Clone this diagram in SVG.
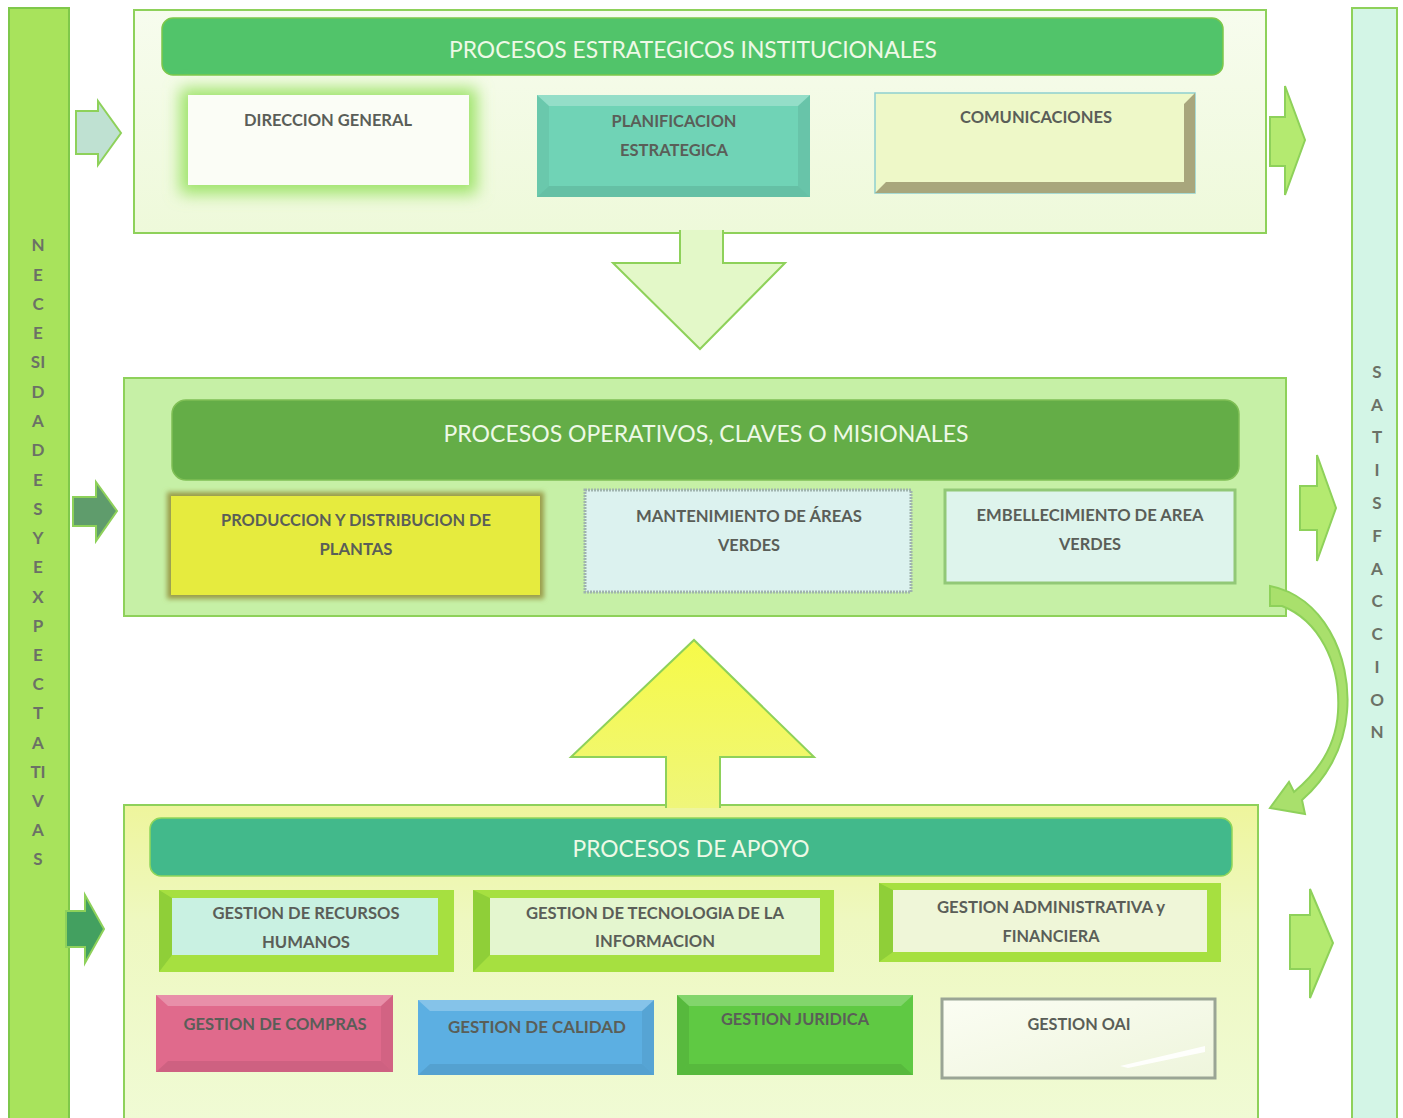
<svg xmlns="http://www.w3.org/2000/svg" width="1403" height="1118" viewBox="0 0 1403 1118">
<defs>
  <style>
    .lbl{font-family:"Lato","Open Sans","Liberation Sans",sans-serif;font-weight:700;font-size:17px;fill:#5a5e58;text-anchor:middle}
    .hdr{font-family:"Lato","Open Sans","Liberation Sans",sans-serif;font-weight:400;font-size:23px;fill:#eef9e6;text-anchor:middle}
    .vl{font-family:"Lato","Open Sans","Liberation Sans",sans-serif;font-weight:700;font-size:17px;fill:#6b7166;text-anchor:middle}
    .cont{stroke:#8ed15a;stroke-width:2}
    .arr{stroke:#8ed15a;stroke-width:2;stroke-linejoin:miter}
  </style>
  <linearGradient id="gTop" x1="0" y1="0" x2="0" y2="1">
    <stop offset="0" stop-color="#f7fcee"/>
    <stop offset="1" stop-color="#eef9da"/>
  </linearGradient>
  <linearGradient id="gBot" x1="0" y1="0" x2="0" y2="1">
    <stop offset="0" stop-color="#eef59c"/>
    <stop offset="0.35" stop-color="#eef8c0"/>
    <stop offset="1" stop-color="#f0fbd6"/>
  </linearGradient>
  <linearGradient id="gUp" x1="0" y1="0" x2="0" y2="1">
    <stop offset="0" stop-color="#f6fa48"/>
    <stop offset="1" stop-color="#eff67a"/>
  </linearGradient>
  <linearGradient id="gOai" x1="0" y1="0" x2="1" y2="1">
    <stop offset="0" stop-color="#fbfdf3"/>
    <stop offset="1" stop-color="#eef5dc"/>
  </linearGradient>
  <filter id="glow" x="-20%" y="-40%" width="140%" height="180%">
    <feGaussianBlur stdDeviation="8"/>
  </filter>
  <filter id="soft" x="-10%" y="-20%" width="120%" height="140%">
    <feGaussianBlur stdDeviation="2.5"/>
  </filter>
</defs>

<!-- side bars -->
<g id="bar-necesidades">
  <rect x="9" y="8" width="60" height="1120" fill="#a8e35c" stroke="#7fc84a" stroke-width="2"/>
  <text class="vl" x="38" y="251">N</text>
  <text class="vl" x="38" y="281">E</text>
  <text class="vl" x="38" y="310">C</text>
  <text class="vl" x="38" y="339">E</text>
  <text class="vl" x="38" y="368">SI</text>
  <text class="vl" x="38" y="398">D</text>
  <text class="vl" x="38" y="427">A</text>
  <text class="vl" x="38" y="456">D</text>
  <text class="vl" x="38" y="486">E</text>
  <text class="vl" x="38" y="515">S</text>
  <text class="vl" x="38" y="544">Y</text>
  <text class="vl" x="38" y="573">E</text>
  <text class="vl" x="38" y="603">X</text>
  <text class="vl" x="38" y="632">P</text>
  <text class="vl" x="38" y="661">E</text>
  <text class="vl" x="38" y="690">C</text>
  <text class="vl" x="38" y="719">T</text>
  <text class="vl" x="38" y="749">A</text>
  <text class="vl" x="38" y="778">TI</text>
  <text class="vl" x="38" y="807">V</text>
  <text class="vl" x="38" y="836">A</text>
  <text class="vl" x="38" y="865">S</text>
</g>
<g id="bar-satisfaccion">
  <rect x="1352" y="8" width="45" height="1120" fill="#d3f5e6" stroke="#8ed15a" stroke-width="2"/>
  <text class="vl" x="1377" y="378">S</text>
  <text class="vl" x="1377" y="411">A</text>
  <text class="vl" x="1377" y="443">T</text>
  <text class="vl" x="1377" y="476">I</text>
  <text class="vl" x="1377" y="509">S</text>
  <text class="vl" x="1377" y="542">F</text>
  <text class="vl" x="1377" y="575">A</text>
  <text class="vl" x="1377" y="607">C</text>
  <text class="vl" x="1377" y="640">C</text>
  <text class="vl" x="1377" y="673">I</text>
  <text class="vl" x="1377" y="706">O</text>
  <text class="vl" x="1377" y="738">N</text>
</g>

<!-- containers -->
<g id="estrategicos">
  <rect class="cont" x="134" y="10" width="1132" height="223" fill="url(#gTop)"/>
  <rect x="162" y="18" width="1061" height="57" rx="11" fill="#51c46a" stroke="#7cc84a" stroke-width="1.5"/>
  <text class="hdr" x="693" y="58" textLength="488" lengthAdjust="spacingAndGlyphs">PROCESOS ESTRATEGICOS INSTITUCIONALES</text>
</g>
<g id="operativos">
  <rect class="cont" x="124" y="378" width="1162" height="238" fill="#c6f0a6"/>
  <rect x="172" y="400" width="1067" height="80" rx="14" fill="#64ad47" stroke="#7fbf55" stroke-width="1.5"/>
  <text class="hdr" x="706" y="442" textLength="525" lengthAdjust="spacingAndGlyphs">PROCESOS OPERATIVOS, CLAVES O MISIONALES</text>
</g>
<g id="apoyo">
  <rect class="cont" x="124" y="805" width="1134" height="330" fill="url(#gBot)"/>
  <rect x="150" y="818" width="1082" height="58" rx="11" fill="#42b98b" stroke="#8fd65a" stroke-width="1.5"/>
  <text class="hdr" x="691" y="857" textLength="237" lengthAdjust="spacingAndGlyphs">PROCESOS DE APOYO</text>
</g>

<!-- top nodes -->
<g id="direccion-general">
  <rect x="180" y="88" width="297" height="106" fill="#9fe46a" filter="url(#glow)"/>
  <rect x="188" y="95" width="281" height="90" fill="#fbfdf6"/>
  <text class="lbl" x="328" y="126" textLength="168" lengthAdjust="spacingAndGlyphs">DIRECCION GENERAL</text>
</g>
<g id="planificacion-estrategica">
  <rect x="537" y="95" width="273" height="102" fill="#70d3b6"/>
  <polygon points="537,95 810,95 798,106 549,106" fill="#ffffff" opacity="0.25"/>
  <polygon points="537,95 549,106 549,186 537,197" fill="#000000" opacity="0.05"/>
  <polygon points="810,95 798,106 798,186 810,197" fill="#000000" opacity="0.07"/>
  <polygon points="537,197 549,186 798,186 810,197" fill="#000000" opacity="0.09"/>
  <text class="lbl" x="674" y="127" textLength="125" lengthAdjust="spacingAndGlyphs">PLANIFICACION</text>
  <text class="lbl" x="674" y="156" textLength="108" lengthAdjust="spacingAndGlyphs">ESTRATEGICA</text>
</g>
<g id="comunicaciones">
  <rect x="875" y="93" width="320" height="100" fill="#eef8c8" stroke="#8fcfd0" stroke-width="1.5"/>
  <polygon points="1195,93 1195,193 875,193 886,182 1184,182 1184,104" fill="#a8a67c"/>
  <text class="lbl" x="1036" y="123" textLength="152" lengthAdjust="spacingAndGlyphs">COMUNICACIONES</text>
</g>

<!-- middle nodes -->
<g id="produccion-distribucion">
  <rect x="167" y="492" width="377" height="107" fill="#9a9c48" filter="url(#soft)"/>
  <rect x="171" y="496" width="369" height="99" fill="#e6eb3e"/>
  <text class="lbl" x="356" y="526" textLength="270" lengthAdjust="spacingAndGlyphs">PRODUCCION Y DISTRIBUCION DE</text>
  <text class="lbl" x="356" y="555" textLength="73" lengthAdjust="spacingAndGlyphs">PLANTAS</text>
</g>
<g id="mantenimiento-areas">
  <rect x="585" y="490" width="326" height="102" fill="#dcf2ef" stroke="#9fb3ae" stroke-width="3" stroke-dasharray="2 1"/>
  <text class="lbl" x="749" y="522" textLength="226" lengthAdjust="spacingAndGlyphs">MANTENIMIENTO DE ÁREAS</text>
  <text class="lbl" x="749" y="551" textLength="62" lengthAdjust="spacingAndGlyphs">VERDES</text>
</g>
<g id="embellecimiento-area">
  <rect x="945" y="490" width="290" height="93" fill="#def4ec" stroke="#92c877" stroke-width="3"/>
  <text class="lbl" x="1090" y="521" textLength="227" lengthAdjust="spacingAndGlyphs">EMBELLECIMIENTO DE AREA</text>
  <text class="lbl" x="1090" y="550" textLength="62" lengthAdjust="spacingAndGlyphs">VERDES</text>
</g>

<!-- bottom nodes row 1 -->
<g id="recursos-humanos">
  <rect x="159" y="890" width="295" height="82" fill="#a6e040"/>
  <polygon points="159,890 172,898 172,955 159,972" fill="#8fcf38"/>
  <rect x="172" y="898" width="266" height="57" fill="#c9f1e2"/>
  <text class="lbl" x="306" y="919" textLength="187" lengthAdjust="spacingAndGlyphs">GESTION DE RECURSOS</text>
  <text class="lbl" x="306" y="948" textLength="88" lengthAdjust="spacingAndGlyphs">HUMANOS</text>
</g>
<g id="tecnologia-informacion">
  <rect x="473" y="890" width="361" height="82" fill="#a6e040"/>
  <polygon points="473,890 490,898 490,955 473,972" fill="#8fcf38"/>
  <rect x="490" y="898" width="330" height="57" fill="#e4f6cf"/>
  <text class="lbl" x="655" y="919" textLength="258" lengthAdjust="spacingAndGlyphs">GESTION DE TECNOLOGIA DE LA</text>
  <text class="lbl" x="655" y="947" textLength="120" lengthAdjust="spacingAndGlyphs">INFORMACION</text>
</g>
<g id="administrativa-financiera">
  <rect x="879" y="883" width="342" height="79" fill="#a6e040"/>
  <polygon points="879,883 893,890 893,952 879,962" fill="#8fcf38"/>
  <rect x="893" y="890" width="314" height="62" fill="#eff6d8"/>
  <text class="lbl" x="1051" y="913" textLength="228" lengthAdjust="spacingAndGlyphs">GESTION ADMINISTRATIVA y</text>
  <text class="lbl" x="1051" y="942" textLength="97" lengthAdjust="spacingAndGlyphs">FINANCIERA</text>
</g>

<!-- bottom nodes row 2 -->
<g id="compras">
  <rect x="156" y="995" width="237" height="77" fill="#e06a8c"/>
  <polygon points="156,995 393,995 381,1006 168,1006" fill="#ffffff" opacity="0.25"/>
  <polygon points="393,995 381,1006 381,1061 393,1072" fill="#000000" opacity="0.06"/>
  <polygon points="156,1072 168,1061 381,1061 393,1072" fill="#000000" opacity="0.08"/>
  <text class="lbl" x="275" y="1030" textLength="183" lengthAdjust="spacingAndGlyphs">GESTION DE COMPRAS</text>
</g>
<g id="calidad">
  <rect x="418" y="1000" width="236" height="75" fill="#5cafe2"/>
  <polygon points="418,1000 654,1000 642,1011 430,1011" fill="#ffffff" opacity="0.25"/>
  <polygon points="654,1000 642,1011 642,1064 654,1075" fill="#000000" opacity="0.06"/>
  <polygon points="418,1075 430,1064 642,1064 654,1075" fill="#000000" opacity="0.08"/>
  <text class="lbl" x="537" y="1033" textLength="178" lengthAdjust="spacingAndGlyphs">GESTION DE  CALIDAD</text>
</g>
<g id="juridica">
  <rect x="677" y="995" width="236" height="80" fill="#5fc943"/>
  <polygon points="677,995 913,995 901,1006 689,1006" fill="#ffffff" opacity="0.22"/>
  <polygon points="677,995 689,1006 689,1064 677,1075" fill="#000000" opacity="0.08"/>
  <polygon points="677,1075 689,1064 901,1064 913,1075" fill="#000000" opacity="0.08"/>
  <text class="lbl" x="795" y="1025" textLength="148" lengthAdjust="spacingAndGlyphs">GESTION JURIDICA</text>
</g>
<g id="oai">
  <rect x="942" y="999" width="273" height="79" fill="url(#gOai)" stroke="#9aa595" stroke-width="3"/>
  <polygon points="1120,1066 1205,1046 1205,1052 1128,1068" fill="#ffffff" opacity="0.9"/>
  <text class="lbl" x="1079" y="1030" textLength="103" lengthAdjust="spacingAndGlyphs">GESTION OAI</text>
</g>

<!-- connectors -->
<g id="connectors">
  <polygon class="arr" points="76,111 98,111 98,101 121,133 98,165 98,154 76,154" fill="#bfe1d2"/>
  <polygon class="arr" points="73,497 96,497 96,482 117,511 96,541 96,526 73,526" fill="#5f9c6c" stroke="#7cc050"/>
  <polygon class="arr" points="66,911 85,911 85,895 104,929 85,963 85,947 66,947" fill="#43a060" stroke="#6cbf50"/>
  <polygon class="arr" points="1270,117 1285,117 1285,86 1305,140 1285,195 1285,166 1270,166" fill="#b4ea70"/>
  <polygon class="arr" points="1300,486 1317,486 1317,455 1336,508 1317,561 1317,530 1300,530" fill="#b4ea70"/>
  <polygon class="arr" points="1290,915 1310,915 1310,889 1333,943 1310,998 1310,969 1290,969" fill="#b4ea70"/>
  <path class="arr" d="M680,230 V263 H613 L700,349 L785,263 H723 V230" fill="#e3f8c8"/>
  <path class="arr" d="M666,808 V757 H571 L694,640 L814,757 H720 V808" fill="url(#gUp)"/>
  <path class="arr" d="M1270,586 C1322,596 1352,655 1347,712 C1344,750 1325,780 1302,800 L1305,814 L1270,808 L1289,782 L1294,792 C1318,772 1336,745 1338,712 C1341,662 1318,620 1282,606 L1270,606 Z" fill="#a9e06c" stroke-width="1.5"/>
</g>
</svg>
